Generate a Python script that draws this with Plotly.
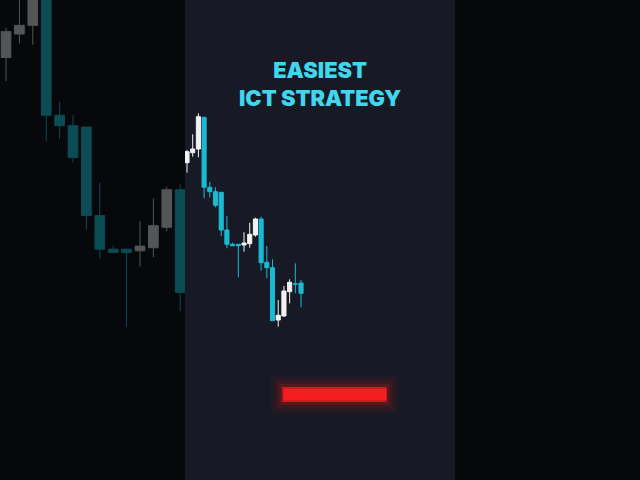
import plotly.graph_objects as go

# candle data (same session shown twice: zoomed + dimmed on the left, normal in the middle)
bars = list(range(21))
opens = [237.3, 247.3, 251.0, 282.7, 212.7, 208.3, 207.7, 170.0, 155.7, 155.7, 155.0, 156.3, 165.0, 181.0, 137.7, 132.3, 80.0, 84.0, 108.3, 116.0, 117.0]
highs = [250.0, 265.7, 286.7, 282.7, 218.3, 212.7, 200.7, 184.0, 157.3, 122.7, 167.7, 177.3, 182.3, 183.3, 154.0, 140.7, 100.0, 114.0, 120.7, 136.7, 120.0]
lows = [227.3, 243.3, 242.7, 201.7, 202.7, 192.7, 164.0, 151.7, 154.3, 154.3, 148.3, 152.3, 163.3, 129.3, 121.7, 79.3, 73.3, 83.3, 96.7, 106.7, 92.7]
closes = [248.3, 251.0, 283.3, 212.7, 208.3, 194.7, 170.0, 155.7, 154.3, 154.3, 157.0, 165.7, 181.0, 137.3, 132.3, 79.3, 84.7, 109.0, 117.7, 116.0, 106.7]

title_lines = ["EASIEST", "ICT STRATEGY"]

fig = go.Figure()

# left: zoomed-in, dimmed copy
fig.add_trace(go.Candlestick(
    x=bars, open=opens, high=highs, low=lows, close=closes,
    xaxis="x2", yaxis="y2",
    increasing=dict(line=dict(color="#545557", width=1), fillcolor="#545557"),
    decreasing=dict(line=dict(color="#0b4c55", width=1), fillcolor="#0b4c55"),
    hoverinfo="skip",
))

# middle: main chart
fig.add_trace(go.Candlestick(
    x=bars, open=opens, high=highs, low=lows, close=closes,
    xaxis="x", yaxis="y",
    increasing=dict(line=dict(color="#f2f2f2", width=1), fillcolor="#f2f2f2"),
    decreasing=dict(line=dict(color="#1cb9d2", width=1), fillcolor="#1cb9d2"),
    hoverinfo="skip",
))

axis_off = dict(visible=False, showgrid=False, zeroline=False, fixedrange=True)

fig.update_layout(
    width=640, height=480,
    margin=dict(l=0, r=0, t=0, b=0),
    paper_bgcolor="#07080b",
    plot_bgcolor="rgba(0,0,0,0)",
    showlegend=False,
    boxgap=0.15, boxgroupgap=0.15,
    xaxis=dict(domain=[185 / 640, 455 / 640], range=[-0.35, 47.0], rangeslider=dict(visible=False), **axis_off),
    yaxis=dict(domain=[0, 1], range=[-80, 400], **axis_off),
    xaxis2=dict(domain=[0, 185 / 640], range=[-0.45, 13.36], anchor="y2", rangeslider=dict(visible=False), **axis_off),
    yaxis2=dict(domain=[0, 1], range=[57.4, 261.8], anchor="x2", **axis_off),
)

shapes = [
    # middle panel background
    dict(type="rect", xref="paper", yref="paper", x0=185 / 640, x1=455 / 640, y0=0, y1=1,
         fillcolor="#171a24", line=dict(width=0), layer="below"),
]

# red glowing level
for pad, op in [(12, 0.035), (9, 0.05), (6, 0.08), (3, 0.14)]:
    shapes.append(dict(type="rect", xref="x", yref="y", x0=16.7 - pad / 5.7, x1=35.0 + pad / 5.7,
                       y0=400 - 402 - pad, y1=400 - 387 + pad,
                       fillcolor="#ff1a1a", opacity=op, line=dict(width=0), layer="below"))
shapes.append(dict(type="rect", xref="x", yref="y", x0=16.7, x1=35.0, y0=400 - 402, y1=400 - 387,
                   fillcolor="#d8171b", line=dict(width=0), layer="below"))
shapes.append(dict(type="rect", xref="x", yref="y", x0=17.0, x1=35.0, y0=400 - 400, y1=400 - 389,
                   fillcolor="#f51d20", line=dict(width=0), layer="below"))
fig.update_layout(shapes=shapes)

fig.add_annotation(
    text="<br>".join(title_lines), xref="paper", yref="paper", x=320 / 640, y=1 - 84 / 480,
    showarrow=False, xanchor="center", yanchor="middle", align="center",
    font=dict(family="Inter", size=21.8, color="#3fd6ee", weight=900),
)

fig.write_html("out.html", config={"displayModeBar": False},
               post_script="document.body.style.margin='0';")
